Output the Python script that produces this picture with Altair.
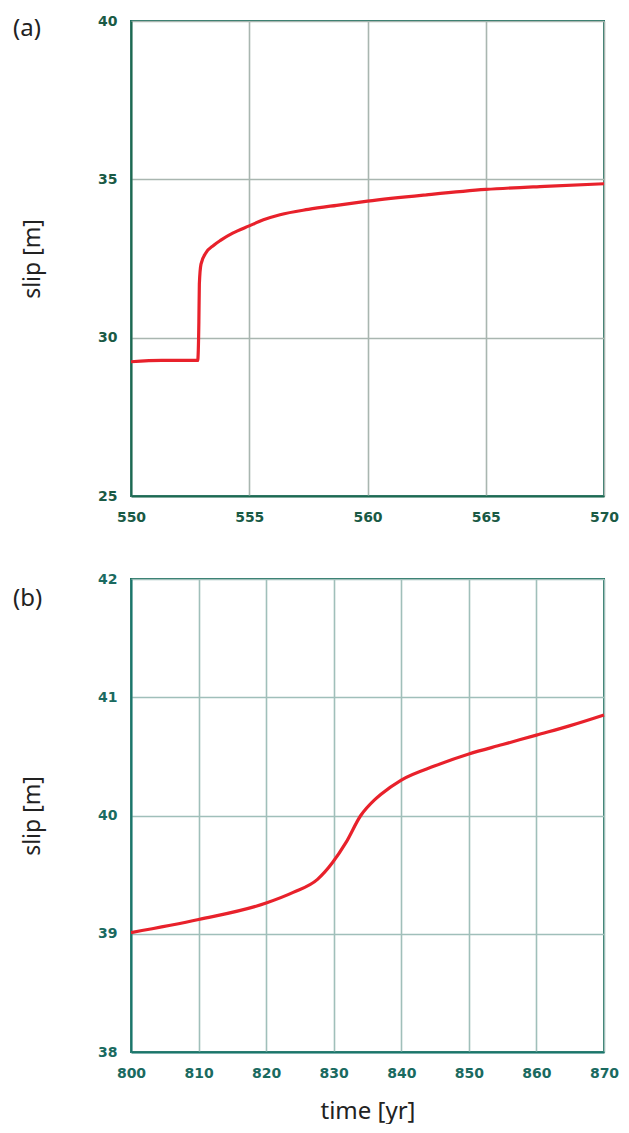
import altair as alt
import pandas as pd

# Panel (a)
a_time = [550.0, 551.3, 552.82, 552.87, 552.89, 552.96, 553.17, 553.5, 553.8, 554.3,
          555.0, 555.6, 556.3, 557.5, 558.7, 560.0, 562.5, 565.0, 567.5, 570.0]
a_slip = [29.24, 29.28, 29.28, 30.5, 31.69, 32.32, 32.68, 32.92, 33.08, 33.3,
          33.53, 33.72, 33.88, 34.05, 34.18, 34.31, 34.51, 34.68, 34.78, 34.86]
a_xticks = [550, 555, 560, 565, 570]
a_yticks = [25, 30, 35, 40]

# Panel (b)
b_time = [800, 810, 820, 824, 827.6, 829.8, 831.8, 834, 836, 837, 840, 845, 850, 855, 860, 865, 870]
b_slip = [39.01, 39.12, 39.26, 39.35, 39.46, 39.6, 39.77, 40.0, 40.13, 40.18, 40.3, 40.42,
          40.52, 40.6, 40.68, 40.76, 40.85]
b_xticks = [800, 810, 820, 830, 840, 850, 860, 870]
b_yticks = [38, 39, 40, 41, 42]

RED = "#e8212b"
TXT_FONT = "Noto Sans"
LBL_FONT = "DejaVu Sans"


def panel(times, slips, xdom, xticks, ydom, yticks, tag, tag_y, xtitle,
          frame, grid, lblcol, h):
    df = pd.DataFrame({"t": times, "s": slips})
    xaxis = dict(values=xticks, format="d", grid=True, gridColor=grid, gridWidth=1.6,
                 domainColor=frame, domainWidth=2, ticks=False, labelPadding=14,
                 labelFlush=False, labelFont=LBL_FONT, labelFontWeight="bold",
                 labelFontSize=14, labelColor=lblcol)
    if xtitle:
        xaxis.update(title=xtitle, titleFont=TXT_FONT, titleFontSize=24,
                     titleFontWeight="normal", titleColor="#222222", titlePadding=19)
    else:
        xaxis.update(title=None)
    line = alt.Chart(df).mark_line(color=RED, strokeWidth=3.2, interpolate="monotone").encode(
        x=alt.X("t:Q", scale=alt.Scale(domain=xdom, nice=False, zero=False),
                axis=alt.Axis(**xaxis)),
        y=alt.Y("s:Q", scale=alt.Scale(domain=ydom, nice=False, zero=False),
                axis=alt.Axis(values=yticks, format="d", grid=True, gridColor=grid,
                              gridWidth=1.6, domainColor=frame, domainWidth=2,
                              ticks=False, labelPadding=14, labelFlush=False,
                              labelFont=LBL_FONT, labelFontWeight="bold", labelFontSize=14,
                              labelColor=lblcol, title="slip [m]", titleFont=TXT_FONT,
                              titleFontSize=23, titleFontWeight="normal",
                              titleColor="#222222", titleX=-99, titleY=h / 2,
                              titleBaseline="middle", titleAngle=270)),
    )
    text = alt.Chart(pd.DataFrame({"lab": [tag]})).mark_text(
        align="left", baseline="middle", fontSize=24, font=TXT_FONT, color="#222222"
    ).encode(x=alt.value(-118), y=alt.value(tag_y), text="lab:N")
    return alt.layer(line, text).properties(width=473, height=h)


pa = panel(a_time, a_slip, [550, 570], a_xticks, [25, 40], a_yticks, "(a)", 8,
           None, "#1c6a52", "#a9b6b0", "#1a5a45", 475)
pb = panel(b_time, b_slip, [800, 870], b_xticks, [38, 42], b_yticks, "(b)", 20,
           "time [yr]", "#1a776c", "#a0bfba", "#1a6a60", 473)

chart = alt.vconcat(pa, pb, spacing=46).properties(
    padding={"left": 4, "top": 5, "right": 0, "bottom": 0}
).configure_view(stroke="#1d6f5e", strokeWidth=2)

chart.save("out.html", embed_options={"renderer": "svg", "actions": False})
